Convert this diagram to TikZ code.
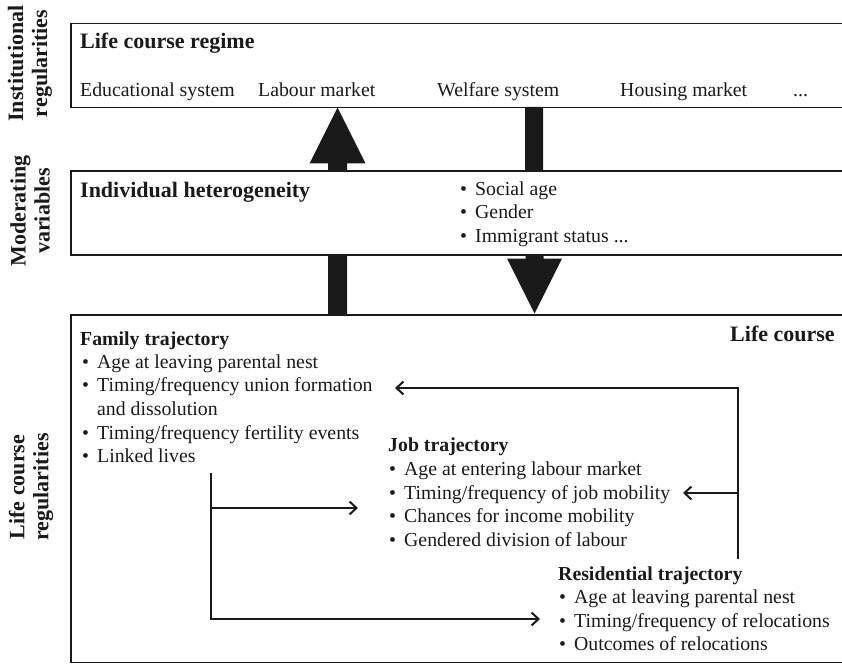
\documentclass[tikz,border=0pt]{standalone}
\usepackage{fontspec}
\setmainfont{Liberation Serif}
\usetikzlibrary{arrows.meta,calc}
\definecolor{ink}{HTML}{1A1A1A}
\begin{document}
\begin{tikzpicture}[x=1pt,y=-1pt,
  txt/.style={anchor=base west, inner sep=0pt, text=ink, font=\fontsize{19.8}{24}\selectfont},
  head/.style={txt, font=\fontsize{19.8}{24}\selectfont\bfseries},
  bighead/.style={txt, font=\fontsize{22}{26}\selectfont\bfseries},
  side/.style={rotate=90, align=center, inner sep=0pt, text=ink, font=\fontsize{22}{24}\selectfont\bfseries},
  box/.style={draw=ink, line width=1.5pt, fill=white, rectangle, inner sep=0pt, anchor=north west},
  conn/.style={draw=ink, line width=2pt, -{Straight Barb[length=7pt,width=13pt]}},
  bigarrow/.style={fill=ink}
]
\path[use as bounding box, clip] (0,0) rectangle (842,663);
\fill[white] (0,0) rectangle (842,663);

% side labels
\node[side] (sInst) at (30,63.5) {Institutional\\regularities};
\node[side] (sMod) at (30,211) {Moderating\\variables};
\node[side] (sLife) at (31,487) {Life course\\regularities};

% top and bottom boxes
\node[box, minimum width=830pt, minimum height=84pt] (regime) at (70,23) {};
\node[box, minimum width=830pt, minimum height=347.5pt] (life) at (70,314) {};

% big arrows
\coordinate (upTail) at (337.5,314);
\coordinate (upTip) at (337.5,107.5);
\coordinate (dnTail) at (534,107);
\coordinate (dnTip) at (534.5,313.5);
\fill[bigarrow] ($(upTail)+(-9.5,0)$) -- ($(upTip)+(-9.5,56)$) -- ($(upTip)+(-28,56)$) -- (upTip)
  -- ($(upTip)+(28,56)$) -- ($(upTip)+(9.5,56)$) -- ($(upTail)+(9.5,0)$) -- cycle;
\fill[bigarrow] ($(dnTail)+(-9,0)$) -- ($(dnTip)+(-9,-55)$) -- ($(dnTip)+(-27.5,-55)$) -- (dnTip)
  -- ($(dnTip)+(27.5,-55)$) -- ($(dnTip)+(9,-55)$) -- ($(dnTail)+(9,0)$) -- cycle;

% middle box (covers arrow shafts)
\node[box, minimum width=830pt, minimum height=84pt] (het) at (70,170) {};

% top box text
\node[bighead] (tRegime) at (80,49) {Life course regime};
\node[txt] (tEdu) at (80,97) {Educational system};
\node[txt] (tLab) at (258,97) {Labour market};
\node[txt] (tWel) at (437,97) {Welfare system};
\node[txt] (tHou) at (620,97) {Housing market};
\node[txt] (tDots) at (793,97) {...};

% middle box text
\node[bighead] (tHet) at (80,197) {Individual heterogeneity};
\node[txt] (m1) at (460,195) {\makebox[15pt][l]{•}Social age};
\node[txt] (m2) at (460,218.5) {\makebox[15pt][l]{•}Gender};
\node[txt] (m3) at (460,242) {\makebox[15pt][l]{•}Immigrant status ...};

% bottom box text
\node[bighead] (tLife) at (730,341) {Life course};
\node[head] (tFam) at (80,345) {Family trajectory};
\node[txt] (f1) at (82,368) {\makebox[15pt][l]{•}Age at leaving parental nest};
\node[txt] (f2) at (82,391.5) {\makebox[15pt][l]{•}Timing/frequency union formation};
\node[txt] (f2b) at (97,415) {and dissolution};
\node[txt] (f3) at (82,439) {\makebox[15pt][l]{•}Timing/frequency fertility events};
\node[txt] (f4) at (82,462) {\makebox[15pt][l]{•}Linked lives};

\node[head] (tJob) at (388,451) {Job trajectory};
\node[txt] (j1) at (389,475) {\makebox[15pt][l]{•}Age at entering labour market};
\node[txt] (j2) at (389,499) {\makebox[15pt][l]{•}Timing/frequency of job mobility};
\node[txt] (j3) at (389,522.5) {\makebox[15pt][l]{•}Chances for income mobility};
\node[txt] (j4) at (389,546) {\makebox[15pt][l]{•}Gendered division of labour};

\node[head] (tRes) at (558,580) {Residential trajectory};
\node[txt] (r1) at (559,603) {\makebox[15pt][l]{•}Age at leaving parental nest};
\node[txt] (r2) at (559,627) {\makebox[15pt][l]{•}Timing/frequency of relocations};
\node[txt] (r3) at (559,650) {\makebox[15pt][l]{•}Outcomes of relocations};

% connectors
\coordinate (rBot) at (738,559);
\coordinate (rTop) at (738,388);
\coordinate (rMid) at (738,493);
\coordinate (toFam) at (395,388);
\coordinate (toJobR) at (683,493);
\coordinate (lTop) at (211,473);
\coordinate (lBot) at (211,619);
\coordinate (lMid) at (211,508);
\coordinate (toJobL) at (358,508);
\coordinate (toRes) at (540,619);
\draw[conn] (rBot) -- (rTop) -- (toFam);
\draw[conn] (rMid) -- (toJobR);
\draw[conn] (lTop) -- (lBot) -- (toRes);
\draw[conn] (lMid) -- (toJobL);
\end{tikzpicture}
\end{document}
